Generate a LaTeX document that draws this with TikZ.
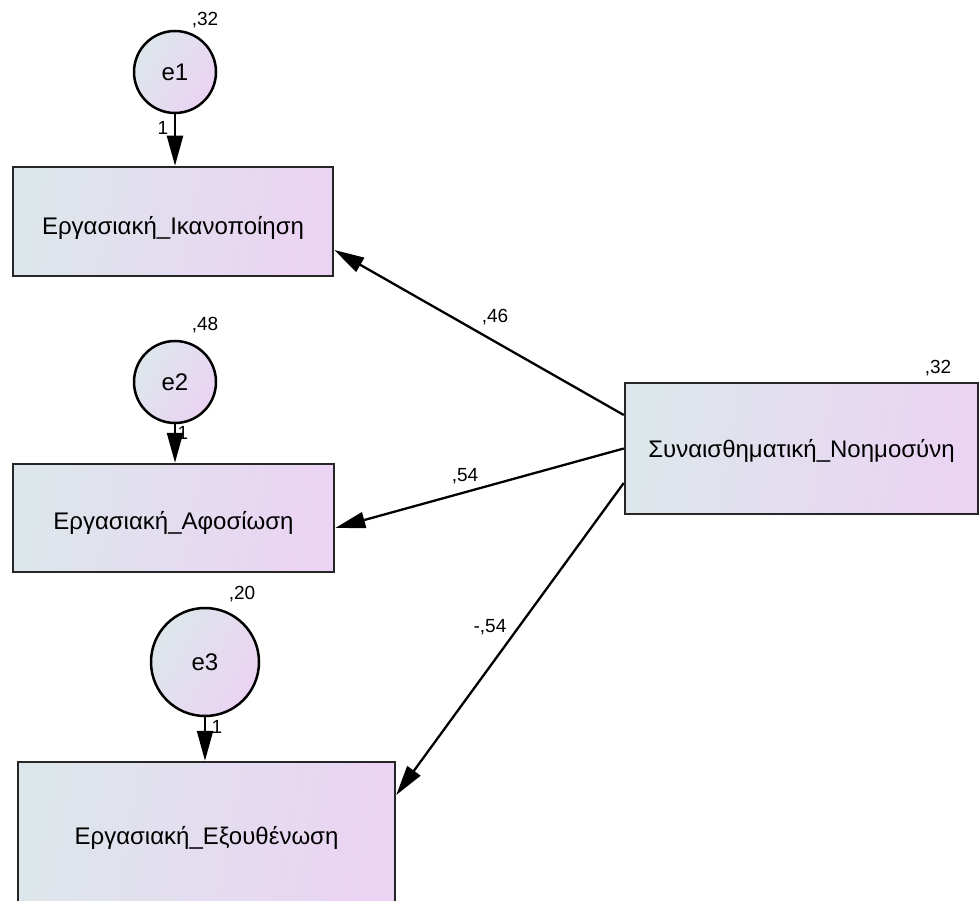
\documentclass[tikz,border=0pt]{standalone}
\usepackage{fontspec}
\setmainfont{Liberation Sans}
\usetikzlibrary{arrows.meta}
\definecolor{gl}{HTML}{DDE7EB}
\definecolor{gr}{HTML}{EBD3F3}
\newcommand{\lowr}[2]{\raisebox{-#1}[\height][\depth]{#2}}
\begin{document}
\begin{tikzpicture}[x=1pt,y=-1pt,
  box/.style={draw=black!85, line width=2.5pt, left color=gl, right color=gr, shading angle=80,
    inner sep=0pt, font=\fontsize{24}{28}\selectfont},
  err/.style={circle, draw=black, line width=2.5pt, left color=gl, right color=gr, shading angle=60,
    inner sep=0pt, font=\fontsize{24}{28}\selectfont},
  conn/.style={line width=2.3pt, -{Triangle[length=30pt,width=16pt]}},
  lab/.style={font=\fontsize{19}{22}\selectfont, inner sep=0pt}]
\useasboundingbox (0,0) rectangle (979,901);
\clip (0,0) rectangle (979,901);
% boxes
\node[box, minimum width=320pt, minimum height=109pt] (b1) at (173,221.5) {\lowr{6pt}{Εργασιακή\_Ικανοποίηση}};
\node[box, minimum width=321pt, minimum height=108pt] (b2) at (173.5,518) {\lowr{5pt}{Εργασιακή\_Αφοσίωση}};
\node[box, minimum width=377pt, minimum height=152pt] (b3) at (206.5,838) {Εργασιακή\_Εξουθένωση};
\node[box, minimum width=353pt, minimum height=131pt] (b4) at (801.5,448.5) {\lowr{2pt}{Συναισθηματική\_Νοημοσύνη}};
% error circles
\node[err, minimum size=82pt] (e1) at (175,72) {e1};
\node[err, minimum size=82pt] (e2) at (175,382) {e2};
\node[err, minimum size=108pt] (e3) at (205,662) {e3};
% error paths
\draw[conn] (e1.south) -- (e1.south |- b1.north);
\draw[conn] (e2.south) -- (e2.south |- b2.north);
\draw[conn] (e3.south) -- (e3.south |- b3.north);
% structural paths
\draw[conn] ([yshift=33.5pt]b4.west) -- ([yshift=-28.5pt]b1.east);
\draw[conn] (b4.west) -- ([yshift=-10pt]b2.east);
\draw[conn] ([yshift=-34.5pt]b4.west) -- ([yshift=43pt]b3.east);
% labels
\node[lab] (v1) at (205,20) {,32};
\node[lab] (w1) at (163,128) {1};
\node[lab] (v2) at (205,325) {,48};
\node[lab] (w2) at (183,433) {1};
\node[lab] (v3) at (242,594) {,20};
\node[lab] (w3) at (217,727) {1};
\node[lab] (v4) at (938,368) {,32};
\node[lab] (p1) at (495,317) {,46};
\node[lab] (p2) at (465,476) {,54};
\node[lab] (p3) at (490,627) {-,54};
\end{tikzpicture}
\end{document}
